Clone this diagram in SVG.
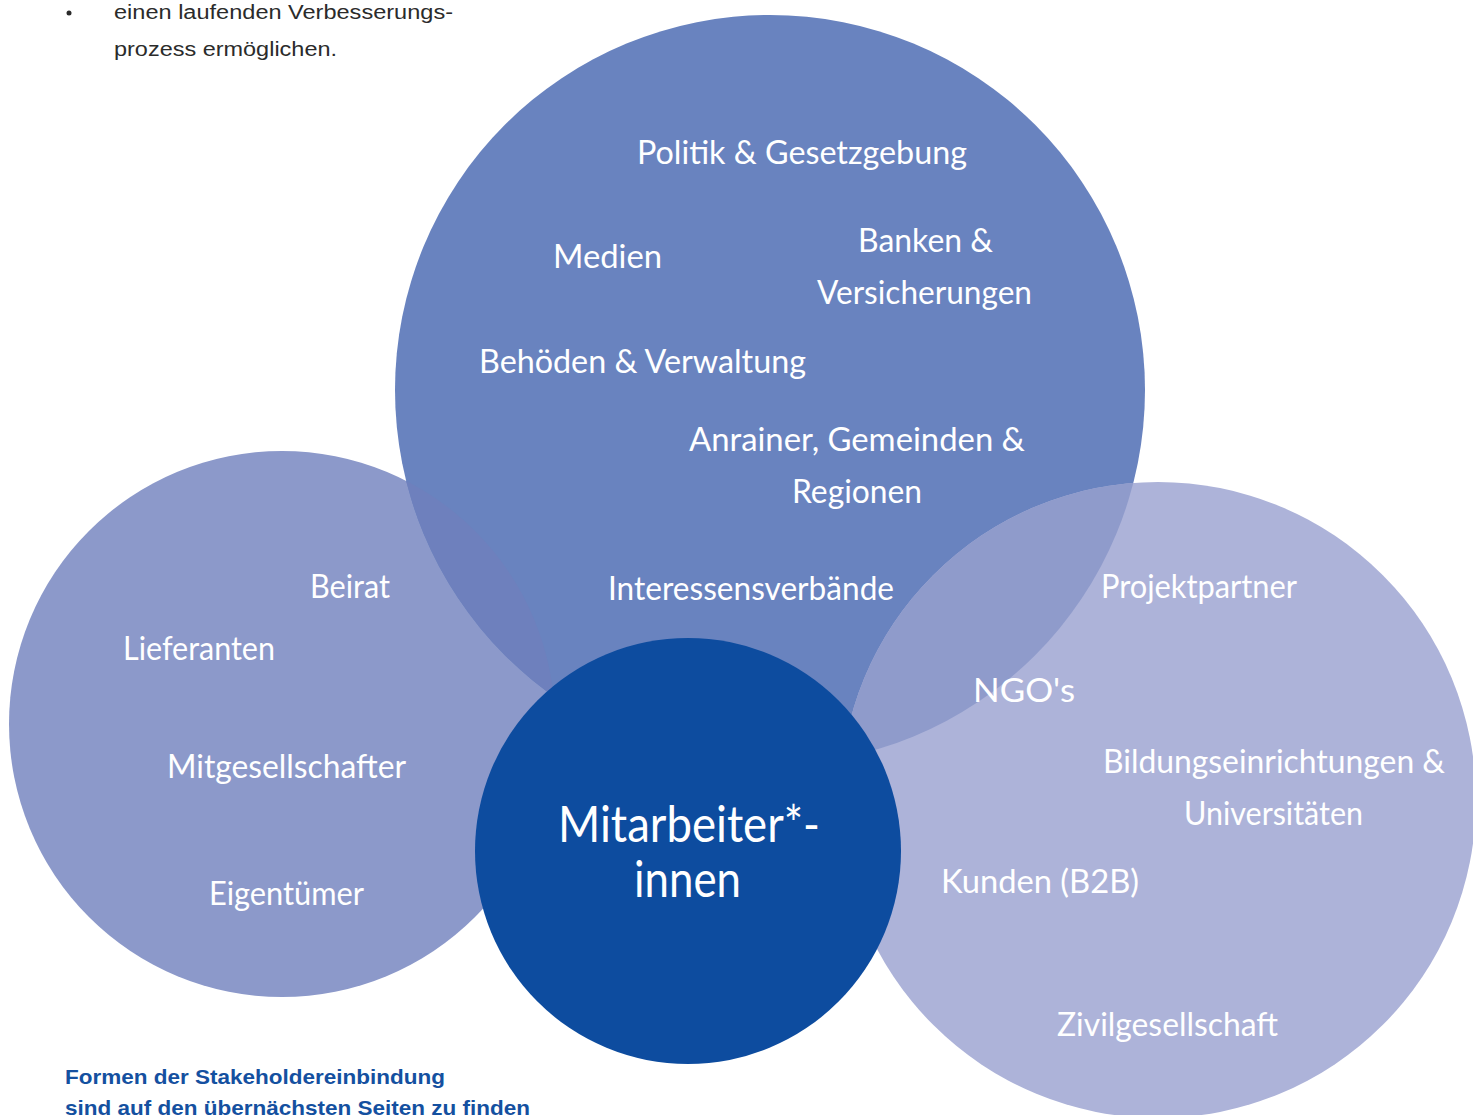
<svg xmlns="http://www.w3.org/2000/svg" width="1473" height="1115" viewBox="0 0 1473 1115">
<defs>
<style>
.lbl{font-family:Lato,"Noto Sans","DejaVu Sans",sans-serif;font-size:33px;fill:#ffffff;}
.big{font-family:Lato,"Noto Sans","DejaVu Sans",sans-serif;font-size:50px;fill:#ffffff;}
.body{font-family:"Liberation Sans",Arial,sans-serif;font-size:20px;fill:#2b2b2b;}
.note{font-family:"Liberation Sans",Arial,sans-serif;font-size:21px;font-weight:bold;fill:#1450a0;}
</style>
<clipPath id="clipTop"><circle cx="770" cy="390" r="375"/></clipPath>
</defs>
<rect width="1473" height="1115" fill="#ffffff"/>
<g id="intro-text">
<circle cx="69" cy="13" r="2.5" fill="#2b2b2b"/>
<text class="body" x="114" y="19" textLength="339" lengthAdjust="spacingAndGlyphs">einen laufenden Verbesserungs-</text>
<text class="body" x="114" y="56" textLength="223" lengthAdjust="spacingAndGlyphs">prozess ermöglichen.</text>
</g>
<g id="circle-left">
<circle cx="282" cy="724" r="273" fill="#8c99ca"/>
</g>
<g id="circle-top">
<circle cx="770" cy="390" r="375" fill="#6983bf"/>
<circle cx="282" cy="724" r="273" fill="#6e80bd" clip-path="url(#clipTop)"/>
</g>
<g id="circle-right">
<circle cx="1158" cy="800" r="318" fill="#adb3d9"/>
<circle cx="1158" cy="800" r="318" fill="#8f9bcb" clip-path="url(#clipTop)"/>
</g>
<g id="circle-center">
<circle cx="688" cy="851" r="213" fill="#0d4c9f"/>
</g>
<g id="connectors"></g>
<g id="labels-top">
<text class="lbl" x="637" y="164" textLength="330" lengthAdjust="spacingAndGlyphs">Politik &amp; Gesetzgebung</text>
<text class="lbl" x="553" y="268" textLength="109" lengthAdjust="spacingAndGlyphs">Medien</text>
<text class="lbl" x="858" y="252" textLength="135" lengthAdjust="spacingAndGlyphs">Banken &amp;</text>
<text class="lbl" x="817" y="304" textLength="215" lengthAdjust="spacingAndGlyphs">Versicherungen</text>
<text class="lbl" x="479" y="373" textLength="327" lengthAdjust="spacingAndGlyphs">Behöden &amp; Verwaltung</text>
<text class="lbl" x="689" y="451" textLength="336" lengthAdjust="spacingAndGlyphs">Anrainer, Gemeinden &amp;</text>
<text class="lbl" x="792" y="503" textLength="130" lengthAdjust="spacingAndGlyphs">Regionen</text>
<text class="lbl" x="608" y="600" textLength="286" lengthAdjust="spacingAndGlyphs">Interessensverbände</text>
</g>
<g id="labels-left">
<text class="lbl" x="310" y="598" textLength="80" lengthAdjust="spacingAndGlyphs">Beirat</text>
<text class="lbl" x="123" y="660" textLength="152" lengthAdjust="spacingAndGlyphs">Lieferanten</text>
<text class="lbl" x="167" y="778" textLength="239" lengthAdjust="spacingAndGlyphs">Mitgesellschafter</text>
<text class="lbl" x="209" y="905" textLength="155" lengthAdjust="spacingAndGlyphs">Eigentümer</text>
</g>
<g id="labels-right">
<text class="lbl" x="1101" y="598" textLength="196" lengthAdjust="spacingAndGlyphs">Projektpartner</text>
<text class="lbl" x="973" y="702" textLength="102" lengthAdjust="spacingAndGlyphs">NGO's</text>
<text class="lbl" x="1103" y="773" textLength="342" lengthAdjust="spacingAndGlyphs">Bildungseinrichtungen &amp;</text>
<text class="lbl" x="1184" y="825" textLength="179" lengthAdjust="spacingAndGlyphs">Universitäten</text>
<text class="lbl" x="941" y="893" textLength="198" lengthAdjust="spacingAndGlyphs">Kunden (B2B)</text>
<text class="lbl" x="1057" y="1036" textLength="221" lengthAdjust="spacingAndGlyphs">Zivilgesellschaft</text>
</g>
<g id="label-center">
<text class="big" x="558" y="842" textLength="262" lengthAdjust="spacingAndGlyphs">Mitarbeiter*-</text>
<text class="big" x="634" y="897" textLength="107" lengthAdjust="spacingAndGlyphs">innen</text>
</g>
<g id="note">
<text class="note" x="65" y="1084" textLength="380" lengthAdjust="spacingAndGlyphs">Formen der Stakeholdereinbindung</text>
<text class="note" x="65" y="1115" textLength="465" lengthAdjust="spacingAndGlyphs">sind auf den übernächsten Seiten zu finden</text>
</g>
</svg>
